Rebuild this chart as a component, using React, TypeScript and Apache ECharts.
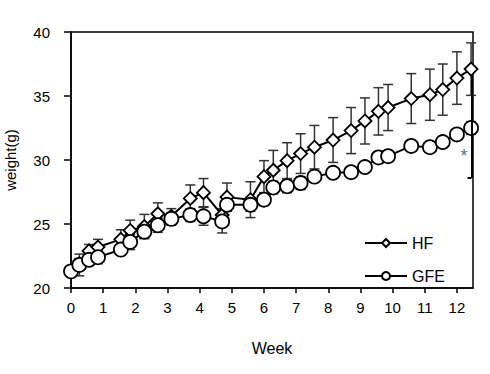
import React, { useEffect, useRef } from "react";
import * as echarts from "echarts";

const weeks = [0, 0.26, 0.56, 0.84, 1.55, 1.84, 2.28, 2.7, 3.12, 3.71, 4.12, 4.7, 4.85, 5.58, 6.0, 6.29, 6.72, 7.14, 7.57, 8.15, 8.71, 9.14, 9.56, 9.86, 10.58, 11.16, 11.56, 12.0, 12.44];
const hfValues = [21.3, 21.9, 22.9, 23.2, 23.8, 24.5, 24.8, 25.8, 25.6, 27.0, 27.45, 25.7, 27.1, 26.9, 28.7, 29.2, 29.95, 30.5, 31.0, 31.56, 32.3, 33.05, 33.8, 34.1, 34.8, 35.1, 35.5, 36.4, 37.1];
const hfErrors = [0.3, 0.4, 0.5, 0.6, 0.75, 0.8, 0.95, 0.85, 0.6, 1.05, 1.1, 0.5, 1.1, 1.4, 1.25, 1.55, 1.4, 1.55, 1.7, 1.75, 1.8, 1.8, 1.85, 1.8, 1.95, 2.0, 2.0, 2.05, 2.05];
const gfeValues = [21.3, 21.8, 22.2, 22.4, 23.0, 23.6, 24.4, 24.9, 25.4, 25.7, 25.6, 25.2, 26.5, 26.5, 26.9, 27.85, 27.95, 28.2, 28.7, 29.0, 29.05, 29.45, 30.2, 30.3, 31.1, 31.0, 31.4, 32.0, 32.5];
const gfeErrors = [0.3, 0.85, 0.4, 0.5, 0.4, 0.6, 0.5, 0.55, 0.5, 0.5, 0.7, 0.9, 0.45, 0.5, 0.45, 0.5, 0.5, 0.5, 0.4, 0.35, 0.35, 0.4, 0.4, 0.3, 0.4, 0.35, 0.35, 0.4, 0.5];
const xTicks = [0, 1, 2, 3, 4, 5, 6, 7, 8, 9, 10, 11, 12];
const bracketX = 12.45;
const bracketTop = 36.6;
const bracketBottom = 28.6;
const starPoint = [12.22, 30.3];

const FONT = "Liberation Sans, Arial, sans-serif";

function errorBarItem(params: any, api: any) {
  const x = api.value(0);
  const y = api.value(1);
  const e = api.value(2);
  const top = api.coord([x, y + e]);
  const bot = api.coord([x, y - e]);
  const half = 5;
  const style = { stroke: "#333", lineWidth: 1.5 };
  return {
    type: "group",
    children: [
      { type: "line", shape: { x1: top[0], y1: top[1], x2: bot[0], y2: bot[1] }, style },
      { type: "line", shape: { x1: top[0] - half, y1: top[1], x2: top[0] + half, y2: top[1] }, style },
      { type: "line", shape: { x1: bot[0] - half, y1: bot[1], x2: bot[0] + half, y2: bot[1] }, style },
    ],
  };
}

export default function App() {
  const ref = useRef<HTMLDivElement>(null);
  useEffect(() => {
    const chart = echarts.init(ref.current!, null, { renderer: "svg" });
    chart.setOption({
      animation: false,
      backgroundColor: "#fff",
      grid: {
        left: 71,
        right: 17,
        top: 32,
        bottom: 86,
        show: true,
        borderColor: "#000",
        borderWidth: 1.5,
        containLabel: false,
        outerBoundsMode: "none",
      },
      legend: {
        orient: "vertical",
        left: 364,
        top: 235,
        padding: 0,
        itemWidth: 42,
        itemHeight: 10,
        itemGap: 17,
        data: ["HF", "GFE"],
        textStyle: { fontFamily: FONT, fontSize: 16, color: "#000" },
      },
      xAxis: {
        type: "value",
        min: 0,
        max: 12.5,
        interval: 1,
        name: "Week",
        nameLocation: "middle",
        nameGap: 52,
        nameTextStyle: { fontFamily: FONT, fontSize: 16, color: "#000" },
        axisLine: { show: true, lineStyle: { color: "#000", width: 1.5 } },
        axisTick: { show: true, length: 5, lineStyle: { color: "#000", width: 1.5 }, customValues: xTicks },
        axisLabel: { fontFamily: FONT, fontSize: 15, color: "#000", margin: 12, customValues: xTicks },
        splitLine: { show: false },
      },
      yAxis: {
        type: "value",
        min: 20,
        max: 40,
        interval: 5,
        name: "weight(g)",
        nameLocation: "middle",
        nameGap: 53,
        nameTextStyle: { fontFamily: FONT, fontSize: 15, color: "#000" },
        axisLine: { show: true, lineStyle: { color: "#000", width: 1.5 } },
        axisTick: { show: true, length: 7, lineStyle: { color: "#000", width: 1.5 } },
        axisLabel: { fontFamily: FONT, fontSize: 15, color: "#000", margin: 21 },
        splitLine: { show: false },
      },
      series: [
        {
          type: "custom",
          name: "hfErr",
          renderItem: errorBarItem,
          data: weeks.map((w, i) => [w, hfValues[i], hfErrors[i]]),
          encode: { x: 0, y: 1 },
          z: 1,
          silent: true,
        },
        {
          type: "custom",
          name: "gfeErr",
          renderItem: errorBarItem,
          data: weeks.map((w, i) => [w, gfeValues[i], gfeErrors[i]]),
          encode: { x: 0, y: 1 },
          z: 1,
          silent: true,
        },
        {
          type: "line",
          name: "HF",
          data: weeks.map((w, i) => [w, hfValues[i]]),
          symbol: "diamond",
          symbolSize: 13,
          showAllSymbol: true,
          lineStyle: { color: "#000", width: 2 },
          itemStyle: { color: "#fff", borderColor: "#000", borderWidth: 1.8 },
          z: 3,
          markLine: {
            silent: true,
            symbol: "none",
            label: { show: false },
            lineStyle: { color: "#000", width: 2, type: "solid" },
            data: [
              [{ coord: [bracketX, bracketTop] }, { coord: [bracketX, bracketBottom] }],
              [{ coord: [bracketX - 0.12, bracketBottom] }, { coord: [bracketX, bracketBottom] }],
            ],
          },
        },
        {
          type: "line",
          name: "GFE",
          data: weeks.map((w, i) => [w, gfeValues[i]]),
          symbol: "circle",
          symbolSize: 14,
          showAllSymbol: true,
          lineStyle: { color: "#000", width: 2 },
          itemStyle: { color: "#fff", borderColor: "#000", borderWidth: 1.8 },
          z: 4,
        },
        {
          type: "scatter",
          name: "star",
          data: [starPoint],
          symbolSize: 1,
          itemStyle: { color: "rgba(0,0,0,0)" },
          label: {
            show: true,
            formatter: "*",
            position: "inside",
            fontFamily: FONT,
            fontSize: 18,
            color: "#2d4a7a",
          },
          silent: true,
          z: 5,
        },
      ],
    });
    return () => chart.dispose();
  }, []);
  return (
    <div
      ref={ref}
      style={{ position: "fixed", left: 0, top: 0, width: 490, height: 374 }}
    />
  );
}
